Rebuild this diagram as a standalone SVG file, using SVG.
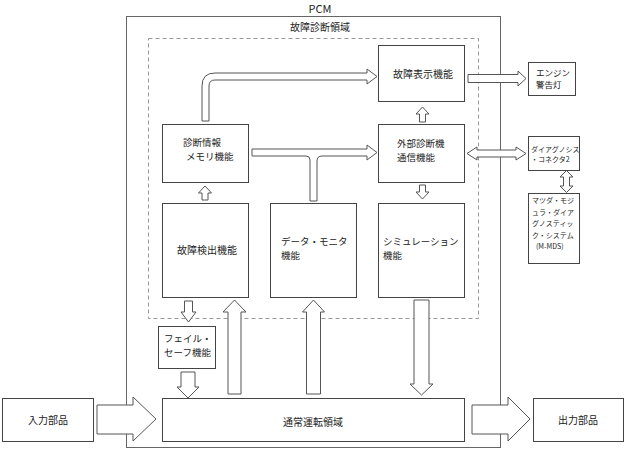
<svg xmlns="http://www.w3.org/2000/svg" width="626" height="451" viewBox="0 0 626 451">
<style>
  text { font-family: "Noto Sans CJK JP", "Noto Sans", sans-serif; font-size: 10px; fill: #222; }
  .box { fill: #fff; stroke: #444; stroke-width: 1; }
  .arr { fill: #fff; stroke: #555; stroke-width: 1; stroke-linejoin: miter; }
  .pcm { fill: none; stroke: #666; stroke-width: 1; }
  .dash { fill: none; stroke: #999; stroke-width: 1; stroke-dasharray: 4 3; }
  .mid { text-anchor: middle; }
  .two { font-size: 9.5px; }
  .sm { font-size: 7px; }
  .md { font-size: 8.5px; }
</style>
<rect x="0" y="0" width="626" height="451" fill="#fff"/>
<g id="pcm">
  <rect class="pcm" x="126.5" y="16.5" width="374" height="431"/>
  <text class="mid" x="320" y="13" style="font-size:11px">PCM</text>
</g>
<g id="diag-area">
  <rect class="dash" x="148.5" y="38.5" width="330" height="280"/>
  <text class="mid" x="320" y="30.5">故障診断領域</text>
</g>
<g id="connectors">
  <path class="arr" d="M202,121 L202,86 Q202,73 215,73 L367,73 L367,69 L377,76.5 L367,84 L367,80 L215,80 Q209,80 209,86 L209,121 Z"/>
  <path class="arr" d="M252,149 L367,149 L367,145 L377,152.5 L367,160 L367,156 L322,156 Q317,156 317,161 L317,201 L310,201 L310,160 Q310,156 306,156 L252,156 Z"/>
  <path class="arr" d="M419.5,122 L419.5,114 L416,114 L422.5,107 L429,114 L425.5,114 L425.5,122 Z"/>
  <path class="arr" d="M419.5,185 L425.5,185 L425.5,192 L429,192 L422.5,199 L416,192 L419.5,192 Z"/>
  <path class="arr" d="M202,200 L202,193 L198.5,193 L205,186 L211.5,193 L208,193 L208,200 Z"/>
  <path class="arr" d="M184.5,301 L192.5,301 L192.5,312 L196,312 L188.5,322 L181,312 L184.5,312 Z"/>
  <path class="arr" d="M181,372 L195,372 L195,387 L199,387 L188,398 L177,387 L181,387 Z"/>
  <path class="arr" d="M228,394 L228,312 L223,312 L234.5,300 L246,312 L241,312 L241,394 Z"/>
  <path class="arr" d="M306.5,394 L306.5,312 L302.5,312 L313.5,300 L324.5,312 L320.5,312 L320.5,394 Z"/>
  <path class="arr" d="M414,300 L429,300 L429,384 L433,384 L421.5,395 L410,384 L414,384 Z"/>
  <path class="arr" d="M468,74.5 L518,74.5 L518,71 L526,78.5 L518,86 L518,82.5 L468,82.5 Z"/>
  <path class="arr" d="M467,153.5 L477,147 L477,150 L516,150 L516,147 L526,153.5 L516,160 L516,157 L477,157 L477,160 Z"/>
  <path class="arr" d="M566.5,170.5 L573,177 L569.5,177 L569.5,186 L573,186 L566.5,192.5 L560,186 L563.5,186 L563.5,177 L560,177 Z"/>
  <path class="arr" d="M97,405 L133,405 L133,397 L156,419 L133,441 L133,434 L97,434 Z"/>
  <path class="arr" d="M472,405 L508,405 L508,397 L530,419 L508,441 L508,434 L472,434 Z"/>
</g>
<g id="fault-display">
  <rect class="box" x="378.5" y="45.5" width="86" height="56"/>
  <text class="mid" x="423" y="77.5">故障表示機能</text>
</g>
<g id="ext-diag-comm">
  <rect class="box" x="378.5" y="124.5" width="86" height="58"/>
  <text class="two" x="397" y="147.4">外部診断機</text>
  <text class="two" x="397" y="161.2">通信機能</text>
</g>
<g id="diag-memory">
  <rect class="box" x="162.5" y="124.5" width="86" height="58"/>
  <text class="two" x="183" y="145.8">診断情報</text>
  <text class="two" x="186" y="160.3">メモリ機能</text>
</g>
<g id="fault-detect">
  <rect class="box" x="162.5" y="203.5" width="86" height="94"/>
  <text x="177" y="253.5">故障検出機能</text>
</g>
<g id="data-monitor">
  <rect class="box" x="270.5" y="203.5" width="86" height="94"/>
  <text class="two" x="281" y="244.9">データ・モニタ</text>
  <text class="two" x="281" y="258.7">機能</text>
</g>
<g id="simulation">
  <rect class="box" x="378.5" y="203.5" width="86" height="94"/>
  <text class="two" x="383" y="244.9">シミュレーション</text>
  <text class="two" x="383" y="258.7">機能</text>
</g>
<g id="fail-safe">
  <rect class="box" x="158.5" y="326.5" width="57" height="42"/>
  <text class="two" x="164" y="342.4">フェイル・</text>
  <text class="two" x="164" y="356.2">セーフ機能</text>
</g>
<g id="normal-op">
  <rect class="box" x="162.5" y="398.5" width="302" height="43"/>
  <text class="mid" x="313" y="425.5">通常運転領域</text>
</g>
<g id="input">
  <rect class="box" x="2.5" y="398.5" width="91" height="43"/>
  <text class="mid" x="48" y="423.5">入力部品</text>
</g>
<g id="output">
  <rect class="box" x="533.5" y="398.5" width="90" height="43"/>
  <text class="mid" x="578" y="423.5">出力部品</text>
</g>
<g id="engine-lamp">
  <rect class="box" x="528.5" y="62.5" width="47" height="33"/>
  <text class="md" x="536" y="75.7">エンジン</text>
  <text class="md" x="536" y="88.2">警告灯</text>
</g>
<g id="diag-connector">
  <rect class="box" x="528.5" y="136.5" width="51" height="34"/>
  <text class="sm" x="531" y="151.5">ダイアグノシス</text>
  <text class="sm" x="531" y="162">・コネクタ2</text>
</g>
<g id="m-mds">
  <rect class="box" x="528.5" y="193.5" width="51" height="70"/>
  <text class="sm" x="532" y="203">マツダ・モジ</text>
  <text class="sm" x="532" y="214.5">ュラ・ダイア</text>
  <text class="sm" x="532" y="226">グノスティッ</text>
  <text class="sm" x="532" y="237.5">ク・システム</text>
  <text class="sm" x="536" y="249">(M-MDS)</text>
</g>
</svg>
